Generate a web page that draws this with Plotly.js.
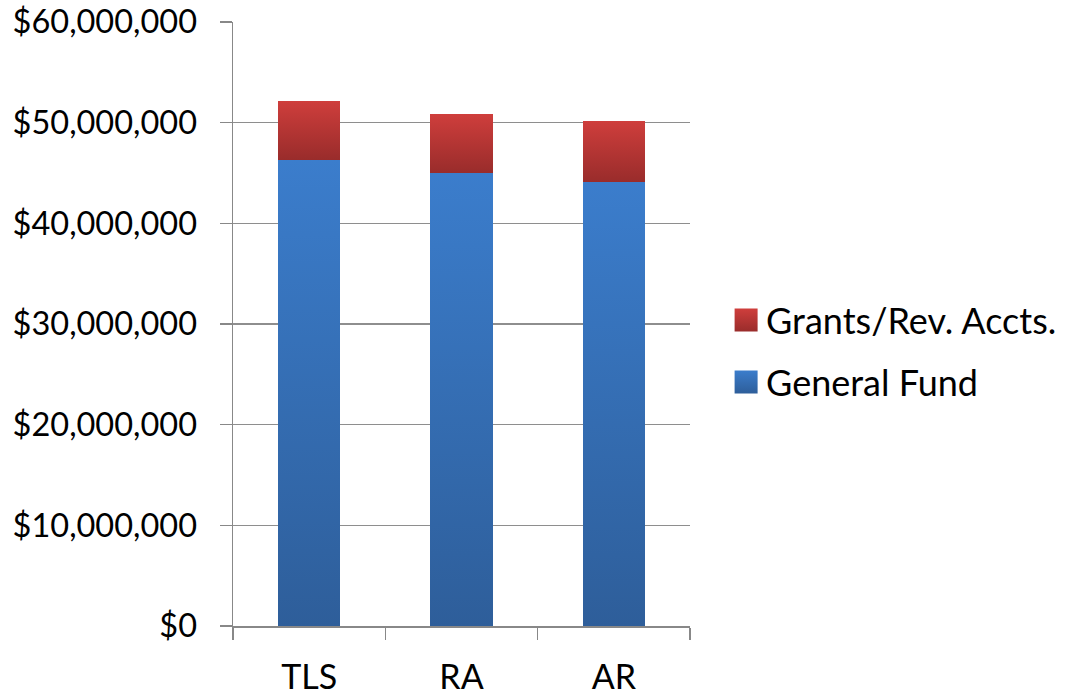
<!DOCTYPE html>
<html>
<head>
<meta charset="utf-8">
<script src="https://cdn.plot.ly/plotly-3.0.1.min.js"></script>
<style>html,body{margin:0;padding:0;background:#fff;}#chart{width:1074px;height:699px;}</style>
</head>
<body>
<div id="chart"></div>
<script>
const categories = ["TLS", "RA", "AR"];
const generalFund = [46300000, 45000000, 44100000];
const grants = [5900000, 5900000, 6100000];
const seriesNames = ["General Fund", "Grants/Rev. Accts."];
const yTickVals = [0, 10000000, 20000000, 30000000, 40000000, 50000000, 60000000];
const yTickText = ["$0", "$10,000,000", "$20,000,000", "$30,000,000", "$40,000,000", "$50,000,000", "$60,000,000"];

const FONT = "Lato, 'Open Sans', sans-serif";
const traces = [
  {type: "bar", name: seriesNames[0], x: categories, y: generalFund, marker: {color: "#3a74bd", line: {width: 0}}, legendgroup: "g1", legendrank: 2, hoverinfo: "skip"},
  {type: "bar", name: seriesNames[1], x: categories, y: grants, marker: {color: "#b93734", line: {width: 0}}, legendgroup: "g2", legendrank: 1, hoverinfo: "skip"}
];
const layout = {
  width: 1074, height: 699,
  margin: {l: 233, r: 381, t: 22, b: 73, pad: 0},
  paper_bgcolor: "#ffffff", plot_bgcolor: "#ffffff",
  barmode: "stack", bargap: 0.59,
  font: {family: FONT, color: "#000000"},
  showlegend: true,
  legend: {x: 1.079, xanchor: "left", y: 0.455, yanchor: "middle", traceorder: "grouped", font: {size: 36, family: FONT, color: "#000"}, tracegroupgap: 12, bgcolor: "rgba(0,0,0,0)", borderwidth: 0},
  xaxis: {type: "category", range: [-0.5, 2.5], showline: true, linecolor: "#888888", linewidth: 1.5,
          ticks: "outside", tickson: "boundaries", ticklen: 12, tickcolor: "#888888", tickwidth: 1.5, ticklabelstandoff: 21,
          tickfont: {size: 34, family: FONT, color: "#000"}, showgrid: false, zeroline: false, fixedrange: true},
  yaxis: {range: [0, 60000000], tickvals: yTickVals, ticktext: yTickText, showline: true, linecolor: "#888888", linewidth: 1.5,
          ticks: "outside", ticklen: 12, tickcolor: "#888888", tickwidth: 1.5, showgrid: true, gridcolor: "#8e8e8e", gridwidth: 1.5,
          ticklabelstandoff: 16,
          zeroline: false, tickfont: {size: 32.5, family: FONT, color: "#000"}, fixedrange: true}
};
Plotly.newPlot("chart", traces, layout, {staticPlot: true, displayModeBar: false}).then(function(gd){
  const svg = gd.querySelector("svg.main-svg");
  const ns = "http://www.w3.org/2000/svg";
  let defs = svg.querySelector("defs");
  if (!defs) { defs = document.createElementNS(ns, "defs"); svg.insertBefore(defs, svg.firstChild); }
  function grad(id, c1, c2) {
    const g = document.createElementNS(ns, "linearGradient");
    g.setAttribute("id", id); g.setAttribute("x1", "0"); g.setAttribute("y1", "0"); g.setAttribute("x2", "0"); g.setAttribute("y2", "1");
    [[0, c1], [1, c2]].forEach(function(s){
      const st = document.createElementNS(ns, "stop");
      st.setAttribute("offset", s[0]); st.setAttribute("stop-color", s[1]); g.appendChild(st);
    });
    defs.appendChild(g);
  }
  grad("gBlue", "#3b7dcc", "#2e5e9a");
  grad("gRed", "#cf3e3c", "#992c2b");
  const ids = ["gBlue", "gRed"];
  gd.querySelectorAll(".barlayer .trace.bars").forEach(function(t, i){
    t.querySelectorAll(".point path").forEach(function(p){ p.style.fill = "url(#" + ids[i] + ")"; });
  });
  gd.querySelectorAll(".legend .traces").forEach(function(t){
    const name = t.textContent.trim();
    const id = name === seriesNames[0] ? "gBlue" : "gRed";
    t.querySelectorAll(".legendpoints path").forEach(function(p){
      p.setAttribute("d", "M11.5,11.5H-11.5V-11.5H11.5Z");
      p.style.fill = "url(#" + id + ")";
      p.style.stroke = "none";
    });
  });
});
</script>
</body>
</html>
